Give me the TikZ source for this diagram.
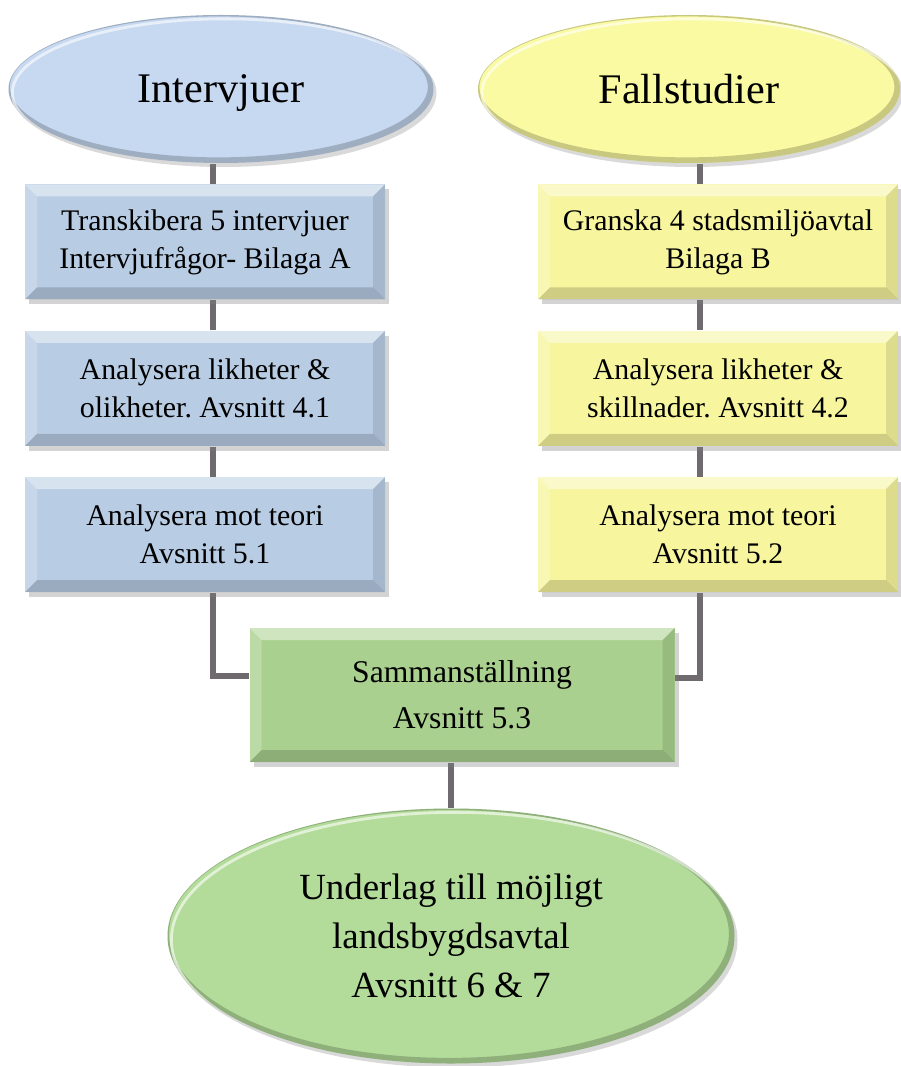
\documentclass[tikz,border=0pt]{standalone}
\usepackage{fontspec}
\setmainfont{Liberation Serif}
\usepackage{xcolor}
\usepackage{tikz}
\usetikzlibrary{positioning, shapes.geometric, calc, shadows, backgrounds}

\definecolor{blaEll}{HTML}{C6D9F1}
\definecolor{blaBox}{HTML}{B8CCE4}
\definecolor{gulEll}{HTML}{FAFAA2}
\definecolor{gulBox}{HTML}{F7F59E}
\definecolor{grnBox}{HTML}{A9D08E}
\definecolor{grnEll}{HTML}{B3DC9A}
\definecolor{linkgray}{HTML}{6E6A6E}

\tikzset{
  bevel/.style={path picture={
    \path (path picture bounding box.south west) coordinate (bsw)
          (path picture bounding box.north east) coordinate (bne);
    \fill[white, opacity=.45] (bsw|-bne) -- (bne) -- ++(-0.12,-0.12) -- ($(bsw|-bne)+(0.12,-0.12)$) -- cycle;
    \fill[white, opacity=.22] (bsw) -- (bsw|-bne) -- ++(0.12,-0.12) -- ($(bsw)+(0.12,0.12)$) -- cycle;
    \fill[black, opacity=.16] (bsw) -- (bne|-bsw) -- ++(-0.12,0.12) -- ($(bsw)+(0.12,0.12)$) -- cycle;
    \fill[black, opacity=.10] (bne|-bsw) -- (bne) -- ++(-0.12,-0.12) -- ($(bne|-bsw)+(-0.12,0.12)$) -- cycle;
  }},
  rim/.style={path picture={
    \draw[black, opacity=.2, line width=2pt] let \p1=(path picture bounding box.north east), \p2=(path picture bounding box.center)
      in ($(\p2)+(-0.6pt,0.6pt)$) ellipse ({\x1-\x2} and {\y1-\y2});
    \draw[white, opacity=.6, line width=0.8pt] let \p1=(path picture bounding box.north east), \p2=(path picture bounding box.center)
      in ($(\p2)+(1.1pt,-1.1pt)$) ellipse ({\x1-\x2} and {\y1-\y2});
  }},
  stepbox/.style={rectangle, minimum width=3.6cm, minimum height=1.15cm, align=center,
    font=\fontsize{8.5}{10.8}\selectfont,
    drop shadow={shadow xshift=0.04cm, shadow yshift=-0.05cm, opacity=.35}, bevel},
  bigell/.style={ellipse, align=center, inner sep=0pt,
    drop shadow={shadow xshift=0.03cm, shadow yshift=-0.04cm, opacity=.3}, rim},
  link/.style={draw=linkgray, line width=1.7pt},
}

\begin{document}
\frenchspacing
\begin{tikzpicture}
    \useasboundingbox (0,0) rectangle (9,-10.66);
    \coordinate (lcol) at (2.13,0);
    \coordinate (rcol) at (7.00,0);

    \node (intv) [bigell, fill=blaEll, minimum width=4.25cm, minimum height=1.48cm, text depth=0pt, font=\fontsize{12}{14}\selectfont] at (2.21,-0.89) {Intervjuer};
    \node (fall) [bigell, fill=gulEll, minimum width=4.22cm, minimum height=1.48cm, text depth=0pt, font=\fontsize{12}{14}\selectfont] at (6.89,-0.89) {Fallstudier};

    \node (trans) [stepbox, fill=blaBox, below=0.2cm of intv, xshift=-0.16cm] {Transkibera 5 intervjuer\\Intervjufrågor- Bilaga A};
    \node (lika1) [stepbox, fill=blaBox, below=0.3cm of trans] {Analysera likheter \&\\olikheter. Avsnitt 4.1};
    \node (teori1) [stepbox, fill=blaBox, below=0.3cm of lika1] {Analysera mot teori\\Avsnitt 5.1};

    \node (granska) [stepbox, fill=gulBox, below=0.2cm of fall, xshift=0.29cm] {Granska 4 stadsmiljöavtal\\Bilaga B};
    \node (lika2) [stepbox, fill=gulBox, below=0.3cm of granska] {Analysera likheter \&\\skillnader. Avsnitt 4.2};
    \node (teori2) [stepbox, fill=gulBox, below=0.3cm of lika2] {Analysera mot teori\\Avsnitt 5.2};

    \node (sum) [stepbox, fill=grnBox, minimum width=4.25cm, minimum height=1.34cm, font=\fontsize{9}{13}\selectfont] at (4.62,-6.95) {Sammanställning\\Avsnitt 5.3};
    \node (final) [bigell, fill=grnEll, minimum width=5.67cm, minimum height=2.55cm, font=\fontsize{10.5}{14}\selectfont] at (4.51,-9.36) {Underlag till möjligt\\landsbygdsavtal\\Avsnitt 6 \& 7};

    % Kopplingar
    \begin{scope}[on background layer]
    \draw[link] (intv.south -| lcol) -- (trans.north -| lcol);
    \draw[link] (trans.south -| lcol) -- (lika1.north -| lcol);
    \draw[link] (lika1.south -| lcol) -- (teori1.north -| lcol);
    \draw[link] (fall.south -| rcol) -- (granska.north -| rcol);
    \draw[link] (granska.south -| rcol) -- (lika2.north -| rcol);
    \draw[link] (lika2.south -| rcol) -- (teori2.north -| rcol);
    \draw[link] (teori1.south -| lcol) |- ([yshift=0.19cm]sum.west);
    \draw[link] (teori2.south -| rcol) |- ([yshift=0.17cm]sum.east);
    \draw[link] (sum.south -| final) -- (final.north);
    \end{scope}
\end{tikzpicture}
\end{document}
